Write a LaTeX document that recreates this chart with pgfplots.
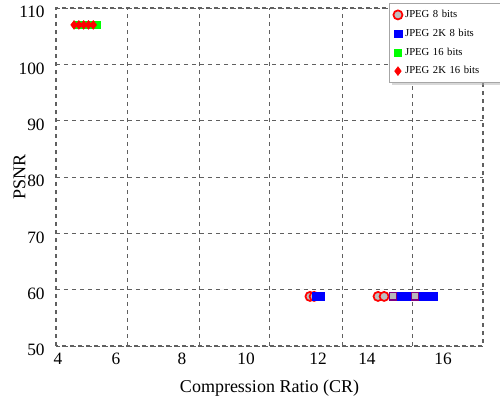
\documentclass[border=0pt]{standalone}
\usepackage{pgfplots}
\pgfplotsset{compat=1.18}
\usepackage{fontspec}
\setmainfont{Liberation Serif}
\usetikzlibrary{shadows}
\begin{document}
\begin{tikzpicture}
\path[use as bounding box] (-42pt,-39pt) rectangle (333pt,259.5pt);
\begin{axis}[
  scale only axis,
  width=320.25pt, height=253.5pt,
  xmin=3.938, xmax=17.24,
  ymin=50, ymax=110,
  xtick={4,5.807,7.863,9.857,12.100,13.626,15.994},
  xticklabels={4,6,8,10,12,14,16},
  ytick={50,60,...,110},
  major tick length=0pt,
  extra x ticks={6.150,8.393,10.573,12.850,15.033},
  extra x tick labels={},
  extra x tick style={grid=major},
  ymajorgrids=true,
  grid style={dashed, gray!75!black, line width=0.7pt},
  axis line style={dashed, gray!75!black, line width=0.8pt},
  tick label style={font=\fontsize{13}{15}\selectfont},
  /pgf/number format/assume math mode=true,
  yticklabel style={xshift=-5pt, yshift=-3pt},
  xticklabel style={yshift=-2pt},
  label style={font=\fontsize{13.5}{16}\selectfont},
  xlabel={Compression Ratio (CR)},
  ylabel={PSNR},
  xlabel style={yshift=-4pt},
  ylabel style={yshift=-12pt},
  legend style={at={(1.04,1.014)}, anchor=north east,
    font=\fontsize{8}{9}\selectfont, draw=gray!70, fill=white,
    drop shadow={shadow xshift=2pt, shadow yshift=-2pt, fill=gray!60},
    row sep=3pt, inner xsep=3pt, inner ysep=3pt,
    text width=66pt},
  legend cell align=left,
]
\addplot[only marks, mark=*, mark size=3.4pt, draw=red, line width=1.3pt, fill=gray!50]
  coordinates {(11.85,58.8) (11.98,58.8) (13.97,58.8) (14.16,58.8)};
\addlegendentry{JPEG 8 bits}
\addplot[only marks, mark=square*, mark size=2.9pt, draw=blue, fill=blue]
  coordinates {(12.04,58.8) (12.19,58.8) (14.50,58.8) (14.75,58.8) (15.00,58.8) (15.25,58.8) (15.50,58.8) (15.71,58.8)};
\addlegendentry{JPEG 2K 8 bits}
\addplot[only marks, mark=square*, mark size=2.7pt, draw=green, fill=green]
  coordinates {(4.60,107) (4.75,107) (4.90,107) (5.05,107) (5.20,107)};
\addlegendentry{JPEG 16 bits}
\addplot[only marks, mark=diamond*, mark size=3.3pt, draw=red, fill=red]
  coordinates {(4.50,107) (4.65,107) (4.80,107) (4.95,107) (5.10,107)};
\addlegendentry{JPEG 2K 16 bits}
\addplot[only marks, mark=square*, mark size=2.7pt, draw=red!50!blue, line width=0.8pt, fill=gray!55, forget plot]
  coordinates {(14.44,58.8) (15.12,58.8)};
\end{axis}
\end{tikzpicture}
\end{document}
